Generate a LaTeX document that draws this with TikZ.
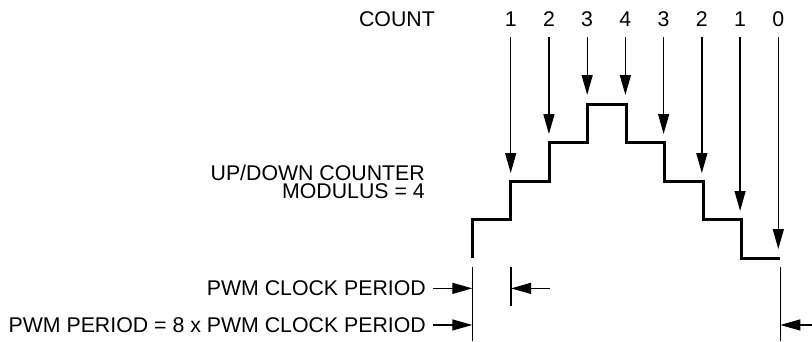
\documentclass[tikz,border=0pt]{standalone}
\usepackage{fontspec}
\setmainfont{Liberation Sans}
\usetikzlibrary{arrows.meta,positioning}

\begin{document}
\begin{tikzpicture}[
  x=1pt, y=-1pt,
  lbl/.style={inner sep=0pt, font=\fontsize{21.3}{18.8}\selectfont},
  arr/.style={-{Triangle[length=20pt,width=11pt]}, line width=1.3pt},
  stair/.style={line width=3pt, line join=miter},
  tick/.style={line width=1.3pt}
]
\useasboundingbox (0,0) rectangle (812,341);

% count values with their arrows
\node[lbl, anchor=base east] (count) at (435,26.7) {COUNT};
\foreach \n/\tip [count=\i from 0] in {1/173,2/134,3/95,4/95,3/134,2/173,1/211,0/249}{
  \node[lbl, anchor=base] (c\i) at (510.7+38.23*\i,26.7) {\n};
  \coordinate (t\i) at (510.7+38.23*\i,\tip);
  \draw[arr, shorten <=10pt] (c\i) -- (t\i);
}

% up/down staircase
\draw[stair] (472.3,258) |- (510.8,219.5) |- (549.3,181) |- (587.8,142.5) |- (626.3,104)
  |- (664.8,142.5) |- (703.3,181) |- (741.8,219.5) |- (780.3,258);
\node[lbl, anchor=north east, align=right] (updown) at (425,164.5) {UP/DOWN COUNTER\\MODULUS = 4};

% period markers
\coordinate (a0) at (472.3,267); \coordinate (a1) at (472.3,341);
\coordinate (b0) at (511,267);   \coordinate (b1) at (511,306);
\coordinate (e0) at (780.3,267); \coordinate (e1) at (780.3,341);
\draw[tick] (a0) -- (a1);
\draw[tick] (b0) -- (b1);
\draw[tick] (e0) -- (e1);

\node[lbl, anchor=base east] (clk) at (426,295.7) {PWM CLOCK PERIOD};
\node[lbl, anchor=base east] (pwm) at (426,332.3) {PWM PERIOD = 8 x PWM CLOCK PERIOD};
\path (clk -| b0) ++(39,0) coordinate (clkback);
\path (pwm -| e0) ++(32,0) coordinate (pwmback);

\draw[arr, shorten <=7pt] (clk) -- (clk -| a0);
\draw[arr, shorten <=7pt] (pwm) -- (pwm -| a0);
\draw[arr] (clkback) -- (clk -| b0);
\draw[arr] (pwmback) -- (pwm -| e0);
\end{tikzpicture}
\end{document}
